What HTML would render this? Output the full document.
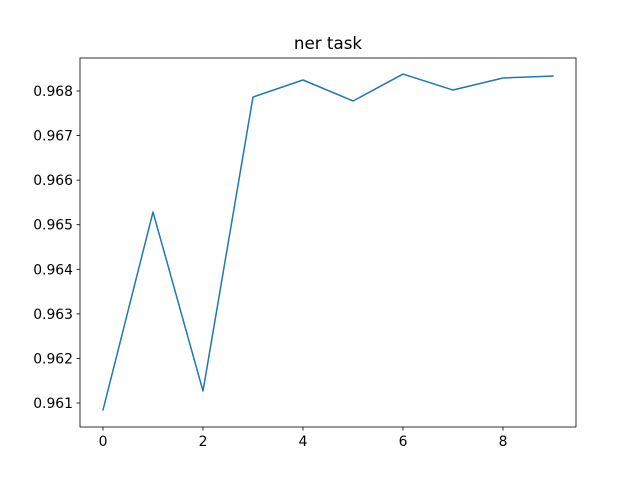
<!DOCTYPE html>
<html><head><meta charset="utf-8"><style>
html,body{margin:0;padding:0;background:#fff;}
svg{display:block;font-family:"DejaVu Sans","Liberation Sans",sans-serif;}
</style></head><body>
<svg id="chart" width="640" height="480" viewBox="0 0 640 480">
<rect x="0" y="0" width="640" height="480" fill="#fff"/>
<text x="328" y="49" text-anchor="middle" font-size="16.7" fill="#000">ner task</text>
<g id="axes"></g>
</svg>
<script>
const epochs = [0,1,2,3,4,5,6,7,8,9];
const scores = [0.960843,0.965285,0.961269,0.967865,0.968247,0.967776,0.968381,0.968022,0.968292,0.968337];
const xTicks = [0,2,4,6,8];
const yTicks = [0.961,0.962,0.963,0.964,0.965,0.966,0.967,0.968];

const L=80,R=576,T=58,B=427;
function xs(v){return 103+(v-0)*50;}
function ys(v){return 403-(v-0.961)/0.001*44.57;}
const NS="http://www.w3.org/2000/svg";
const g=document.getElementById('axes');
function mk(tag,attrs){const e=document.createElementNS(NS,tag);for(const k in attrs)e.setAttribute(k,attrs[k]);g.appendChild(e);return e;}

const line=mk('polyline',{points:epochs.map((e,i)=>xs(e)+','+ys(scores[i])).join(' '),fill:'none',stroke:'#1f77b4','stroke-width':1.5,'stroke-linejoin':'round','stroke-linecap':'square'});



const frame=mk('rect',{x:L,y:T,width:R-L,height:B-T,fill:'none',stroke:'#000','stroke-width':0.8});



xTicks.forEach(t=>{
  const x=xs(t);
  const tk=mk('line',{x1:x,x2:x,y1:B,y2:B+3.5,stroke:'#000','stroke-width':0.8});
  
  
  const lb=mk('text',{x:x,y:B+19,'text-anchor':'middle','font-size':13.9,fill:'#000'});
  lb.textContent=t;
  
  
});
yTicks.forEach(t=>{
  const y=ys(t);
  const tk=mk('line',{x1:L-3.5,x2:L,y1:y,y2:y,stroke:'#000','stroke-width':0.8});
  
  
  const lb=mk('text',{x:L-7,y:y+5,'text-anchor':'end','font-size':13.9,fill:'#000'});
  lb.textContent=t.toFixed(3);
  
  
});
</script>
</body></html>
